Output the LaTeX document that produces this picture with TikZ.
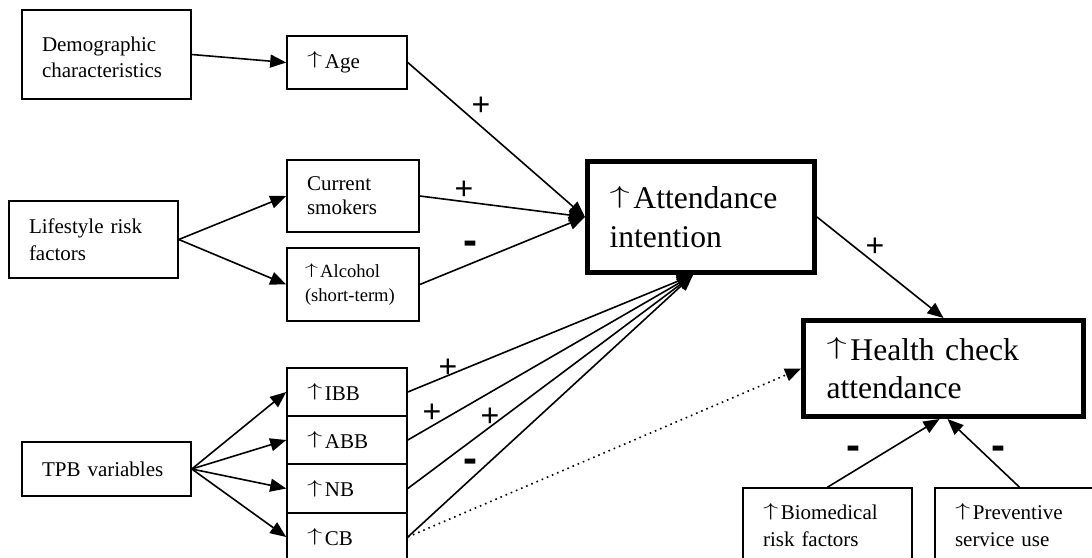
\documentclass[tikz,border=0pt]{standalone}
\usepackage{fontspec}
\usepackage{graphicx}
\setmainfont{Liberation Serif}
\newfontfamily\signfont{Liberation Sans}
\usetikzlibrary{arrows.meta}

\newcommand{\up}{\raisebox{0.17em}{\scalebox{1.4}[0.85]{$\uparrow$}}\kern0.12em}

\tikzset{
  box/.style={draw, line width=0.8pt, inner xsep=10pt, inner ysep=2pt, align=left,
    font=\fontsize{10.5}{13.3}\selectfont},
  bigbox/.style={box, line width=2.5pt, inner xsep=11pt,
    font=\fontsize{15.8}{19.2}\selectfont},
  link/.style={->, line width=0.8pt},
  sign/.style={font=\signfont\fontsize{16}{16}\selectfont, inner sep=0pt},
  minus/.style={font=\signfont\bfseries\fontsize{21}{21}\selectfont, inner sep=0pt}
}

\begin{document}
\begin{tikzpicture}[x=0.5pt, y=-0.5pt, >={Triangle[length=8pt,width=6.5pt]}]

\useasboundingbox (0,0) rectangle (1092,557);

% left column
\node[box, text width=64.5pt, minimum height=44.5pt, text height=10pt] (demo) at (106.5,54.5) {Demographic\\characteristics};
\node[box, text width=64.5pt, minimum height=38.5pt] (life) at (93.5,239.5) {Lifestyle risk\\factors};
\node[box, text width=64.5pt, minimum height=27pt] (tpb) at (106.5,469) {TPB variables};

% middle column
\node[box, text width=40pt, minimum height=26.5pt] (age) at (347,62.5) {\up Age};
\node[box, text width=46pt, minimum height=36pt, font=\fontsize{10.5}{12}\selectfont] (smok) at (353,196) {Current\\smokers};
\node[box, text width=48pt, inner xsep=9pt, minimum height=36.5pt, font=\fontsize{9.3}{12}\selectfont] (alc) at (353,284.5) {\up Alcohol\\(short-term)};

\node[box, text width=40pt, minimum height=24pt] (ibb) at (347,392) {\up IBB};
\node[box, text width=40pt, minimum height=24pt] (abb) at (347,440) {\up ABB};
\node[box, text width=40pt, minimum height=24.5pt] (nb) at (347,488.5) {\up NB};
\node[box, text width=40pt, minimum height=24pt] (cb) at (347,537) {\up CB};

% outcomes
\node[bigbox, text width=91.5pt, minimum height=55.5pt] (att) at (701,217) {\up Attendance\\intention};
\node[bigbox, text width=117pt, inner xsep=11.5pt, minimum height=48pt] (hc) at (943.5,368.5) {\up Health check\\attendance};

\node[box, text width=64.5pt, minimum height=37pt] (bio) at (827.5,525) {\up Biomedical\\risk factors};
\node[box, text width=64.5pt, minimum height=37pt] (prev) at (1019.5,525) {\up Preventive\\service use};

\coordinate (attin) at ([xshift=-4pt]att.south);

% arrows
\draw[link] (demo.east) -- (age.west);
\draw[link] (life.east) -- (smok.west);
\draw[link] (life.east) -- (alc.west);

\draw[link] (tpb.east) -- (ibb.west);
\draw[link] (tpb.east) -- (abb.west);
\draw[link] (tpb.east) -- (nb.west);
\draw[link] (tpb.east) -- (cb.west);

\draw[link] (age.east) -- (att.west);
\draw[link] (smok.east) -- (att.west);
\draw[link] (alc.east) -- (att.west);

\draw[link] (ibb.east) -- (attin);
\draw[link] (abb.east) -- (attin);
\draw[link] (nb.east) -- (attin);
\draw[link] (cb.east) -- (attin);

\draw[link] (att.east) -- (hc.north);
\draw[link, dotted] (cb.east) -- (hc.west);

\draw[link] (bio.north) -- ([xshift=-2pt]hc.south);
\draw[link] (prev.north) -- ([xshift=2pt]hc.south);

% signs
\node[sign] (s1) at (481,106) {+};
\node[sign] (s2) at (464,190) {+};
\node[minus] (s3) at (470,248) {-};
\node[sign] (s4) at (875,247) {+};
\node[sign] (s5) at (448,368) {+};
\node[sign] (s6) at (432,413) {+};
\node[sign] (s7) at (490,417) {+};
\node[minus] (s8) at (470,466) {-};
\node[minus] (s9) at (853,453) {-};
\node[minus] (s10) at (998,453) {-};

\end{tikzpicture}
\end{document}
